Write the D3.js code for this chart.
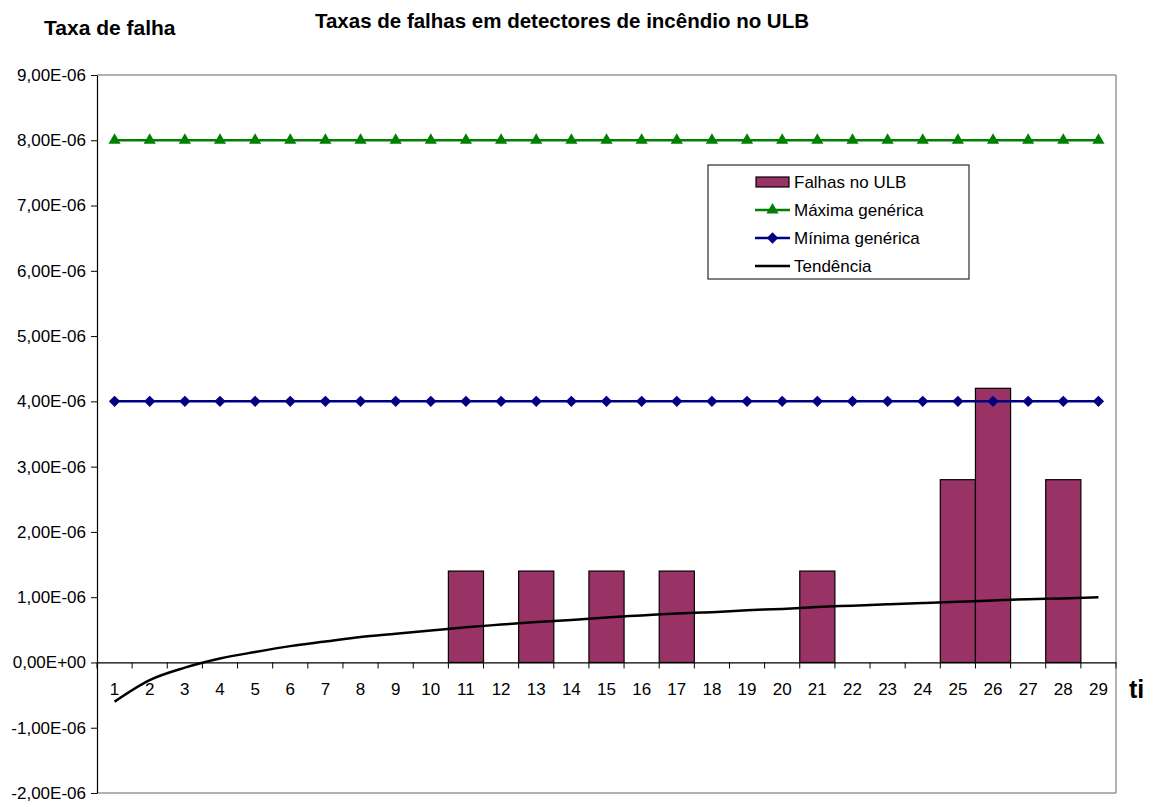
<!DOCTYPE html>
<html><head><meta charset="utf-8">
<script src="https://cdn.jsdelivr.net/npm/d3@7"></script>
<style>body{margin:0;background:#fff;font-family:"Liberation Sans",Arial,sans-serif;}</style>
</head><body><svg id="c" width="1155" height="807"></svg>
<script>
const categories = ["1","2","3","4","5","6","7","8","9","10","11","12","13","14","15","16","17","18","19","20","21","22","23","24","25","26","27","28","29"];
const falhas = [0,0,0,0,0,0,0,0,0,0,1.4e-6,0,1.4e-6,0,1.4e-6,0,1.4e-6,0,0,0,1.4e-6,0,0,0,2.8e-6,4.2e-6,0,2.8e-6,0];
const maxima = [8e-6,8e-6,8e-6,8e-6,8e-6,8e-6,8e-6,8e-6,8e-6,8e-6,8e-6,8e-6,8e-6,8e-6,8e-6,8e-6,8e-6,8e-6,8e-6,8e-6,8e-6,8e-6,8e-6,8e-6,8e-6,8e-6,8e-6,8e-6,8e-6];
const minima = [4e-6,4e-6,4e-6,4e-6,4e-6,4e-6,4e-6,4e-6,4e-6,4e-6,4e-6,4e-6,4e-6,4e-6,4e-6,4e-6,4e-6,4e-6,4e-6,4e-6,4e-6,4e-6,4e-6,4e-6,4e-6,4e-6,4e-6,4e-6,4e-6];
const tendencia = [-0.60e-6,-0.27e-6,-0.08e-6,0.06e-6,0.16e-6,0.25e-6,0.32e-6,0.39e-6,0.44e-6,0.49e-6,0.54e-6,0.58e-6,0.62e-6,0.65e-6,0.69e-6,0.72e-6,0.75e-6,0.77e-6,0.80e-6,0.82e-6,0.85e-6,0.87e-6,0.89e-6,0.91e-6,0.93e-6,0.95e-6,0.97e-6,0.98e-6,1.00e-6];
const yTickValues = [-2e-6,-1e-6,0,1e-6,2e-6,3e-6,4e-6,5e-6,6e-6,7e-6,8e-6,9e-6];
const yTickLabels = ["-2,00E-06","-1,00E-06","0,00E+00","1,00E-06","2,00E-06","3,00E-06","4,00E-06","5,00E-06","6,00E-06","7,00E-06","8,00E-06","9,00E-06"];
const seriesNames = ["Falhas no ULB","Máxima genérica","Mínima genérica","Tendência"];

const FONT = "Liberation Sans, Arial, sans-serif";
const svg = d3.select("#c");
const L=97, R=1116, T=75, B=793;
const x = d3.scaleBand().domain(categories).range([L,R]).padding(0);
const y = d3.scaleLinear().domain([-2e-6,9e-6]).range([B,T]);
const cx = d => x(d)+x.bandwidth()/2;

// plot border
svg.append("line").attr("x1",L).attr("x2",R).attr("y1",T).attr("y2",T).attr("stroke","#999").attr("stroke-width",1.5);
svg.append("line").attr("x1",R).attr("x2",R).attr("y1",T).attr("y2",B).attr("stroke","#999").attr("stroke-width",1.5);
svg.append("line").attr("x1",L).attr("x2",R).attr("y1",B).attr("y2",B).attr("stroke","#999").attr("stroke-width",1.5);

// y axis
const yAxis = d3.axisLeft(y).tickValues(yTickValues).tickSize(6).tickSizeOuter(0)
  .tickFormat((d,i)=>yTickLabels[i]);
const gy = svg.append("g").attr("transform",`translate(${L},0)`).call(yAxis);
gy.select(".domain").attr("stroke","#000").attr("stroke-width",1.2);
gy.selectAll(".tick line").attr("stroke","#000");
gy.selectAll(".tick text").attr("font-family",FONT).attr("font-size",17).attr("fill","#000").attr("x",-11);

// bars
svg.append("g").selectAll("rect").data(categories).join("rect")
  .filter((d,i)=>falhas[i]>0)
  .attr("x",d=>x(d)).attr("width",x.bandwidth())
  .attr("y",d=>y(falhas[categories.indexOf(d)]))
  .attr("height",d=>y(0)-y(falhas[categories.indexOf(d)]))
  .attr("fill","#993366").attr("stroke","#000").attr("stroke-width",1.2);

// x axis at zero
const xAxis = d3.axisBottom(x).tickSize(0).tickSizeOuter(0);
const gx = svg.append("g").attr("transform",`translate(0,${y(0)})`).call(xAxis);
gx.select(".domain").attr("stroke","#000").attr("stroke-width",1.2);
gx.selectAll(".tick text").attr("font-family",FONT).attr("font-size",17).attr("fill","#000").attr("dy",0).attr("y",33);
// boundary ticks
gx.append("g").selectAll("line").data(categories.concat(["_end"])).join("line")
  .attr("x1",(d,i)=> i<categories.length ? x(d) : R)
  .attr("x2",(d,i)=> i<categories.length ? x(d) : R)
  .attr("y1",0).attr("y2",6).attr("stroke","#000");

// lines
const line = d3.line().x((d,i)=>cx(categories[i])).y(d=>y(d));
svg.append("path").datum(maxima).attr("d",line).attr("fill","none").attr("stroke","#008000").attr("stroke-width",2.5);
svg.append("path").datum(minima).attr("d",line).attr("fill","none").attr("stroke","#000080").attr("stroke-width",2.5);
svg.append("g").selectAll("path").data(maxima).join("path")
  .attr("transform",(d,i)=>`translate(${cx(categories[i])},${y(d)})`)
  .attr("d",d3.symbol(d3.symbolTriangle,64)).attr("fill","#008000");
svg.append("g").selectAll("path").data(minima).join("path")
  .attr("transform",(d,i)=>`translate(${cx(categories[i])},${y(d)}) rotate(45)`)
  .attr("d","M-4,-4h8v8h-8z").attr("fill","#000080");

// trend
svg.append("path").datum(tendencia).attr("d",line.curve(d3.curveMonotoneX)).attr("fill","none").attr("stroke","#000").attr("stroke-width",2.5);

// titles
svg.append("text").attr("x",562).attr("y",28).attr("text-anchor","middle").attr("font-family",FONT).attr("font-weight","bold").attr("font-size",20.5).text("Taxas de falhas em detectores de incêndio no ULB");
svg.append("text").attr("x",44).attr("y",35).attr("font-family",FONT).attr("font-weight","bold").attr("font-size",21).text("Taxa de falha");
svg.append("text").attr("x",1129).attr("y",698).attr("font-family",FONT).attr("font-weight","bold").attr("font-size",25).text("ti");

// legend
const lg = svg.append("g");
lg.append("rect").attr("x",708).attr("y",165).attr("width",261).attr("height",114).attr("fill","#fff").attr("stroke","#000").attr("stroke-width",1);
const rows=[182,210,238,266];
seriesNames.forEach((n,i)=>{
  const yy=rows[i];
  if(i===0){
    lg.append("rect").attr("x",756).attr("y",yy-5).attr("width",33).attr("height",10).attr("fill","#993366").attr("stroke","#000").attr("stroke-width",1.2);
  } else {
    const col = i===1?"#008000":i===2?"#000080":"#000";
    lg.append("line").attr("x1",755).attr("x2",790).attr("y1",yy).attr("y2",yy).attr("stroke",col).attr("stroke-width",2.5);
    if(i===1) lg.append("path").attr("transform",`translate(772.5,${yy})`).attr("d",d3.symbol(d3.symbolTriangle,64)).attr("fill",col);
    if(i===2) lg.append("path").attr("transform",`translate(772.5,${yy}) rotate(45)`).attr("d","M-4,-4h8v8h-8z").attr("fill",col);
  }
  lg.append("text").attr("x",794).attr("y",yy+6).attr("font-family",FONT).attr("font-size",17).text(n);
});
</script></body></html>
